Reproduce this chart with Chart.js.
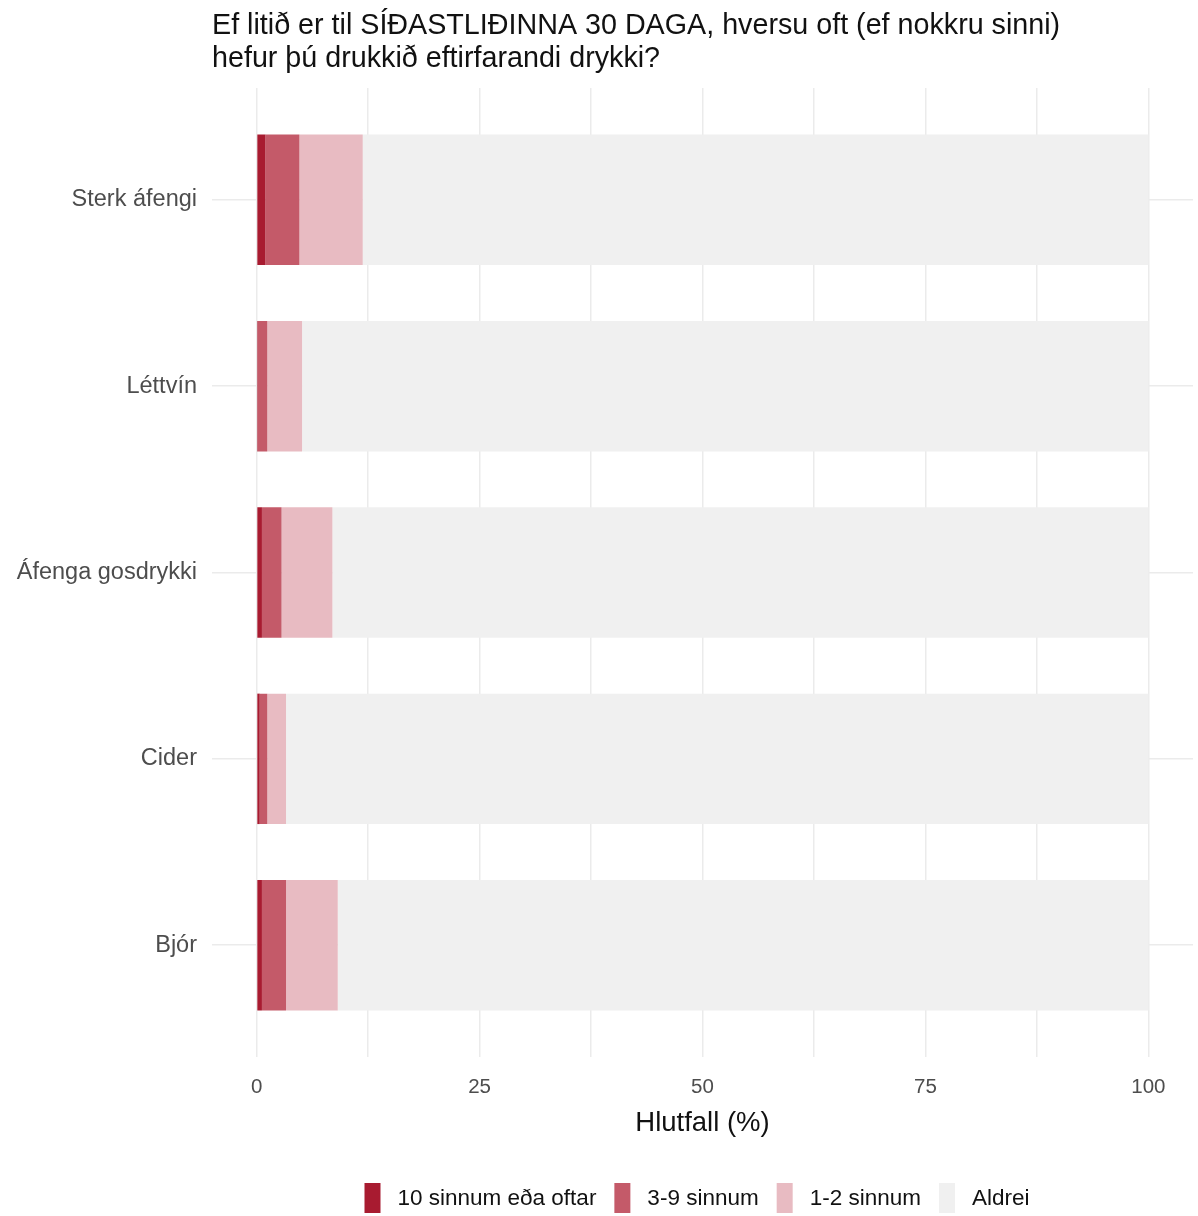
<!DOCTYPE html>
<html lang="is">
<head>
  <meta charset="UTF-8">
  <title>Drykkja síðastliðna 30 daga</title>
  <script src="https://cdn.jsdelivr.net/npm/chart.js"></script>
  <style>
    body { margin: 0; background: #fff; }
    #wrap { width: 1198px; height: 1216px; position: relative; }
  </style>
</head>
<body>
  <div id="wrap"><canvas id="drinkChart"></canvas></div>

  <script>
    const titleLines = [
      'Ef litið er til SÍÐASTLIÐINNA 30 DAGA, hversu oft (ef nokkru sinni)',
      'hefur þú drukkið eftirfarandi drykki?'
    ];
    const categories = ['Sterk áfengi', 'Léttvín', 'Áfenga gosdrykki', 'Cider', 'Bjór'];
    const seriesNames = ['10 sinnum eða oftar', '3-9 sinnum', '1-2 sinnum', 'Aldrei'];
    const tenPlus = [1.0, 0.15, 0.6, 0.35, 0.6];
    const threeToNine = [3.8, 1.05, 2.2, 0.85, 2.7];
    const oneToTwo = [7.1, 3.9, 5.7, 2.1, 5.8];
    const never = [88.1, 94.9, 91.5, 96.7, 90.9];
    const xTicks = [0, 12.5, 25, 37.5, 50, 62.5, 75, 87.5, 100];
    const colors = ['#A81B30', '#C45A69', '#E8BBC2', '#F0F0F0'];

    const FONT = "'Liberation Sans', Arial, sans-serif";
    const seriesValues = [tenPlus, threeToNine, oneToTwo, never];

    const datasets = seriesNames.map((name, s) => ({
      label: name,
      data: seriesValues[s].map((v, i) => ({ x: v, y: i + 1 })),
      backgroundColor: colors[s],
      borderWidth: 0,
      barPercentage: 0.7,
      categoryPercentage: 1
    }));

    // title + legend drawn in the same style as the original figure
    const extras = {
      id: 'extras',
      afterDraw(chart) {
        const ctx = chart.ctx;
        ctx.save();
        ctx.fillStyle = '#111';
        ctx.font = '28.7px ' + FONT;
        ctx.textBaseline = 'middle';
        ctx.textAlign = 'left';
        ctx.fillText(titleLines[0], 212, 26);
        ctx.fillText(titleLines[1], 212, 59);

        ctx.font = '22.5px ' + FONT;
        const boxW = 16, boxH = 30, gapText = 17, gapItem = 18;
        const widths = seriesNames.map(n => ctx.measureText(n).width);
        let total = 0;
        widths.forEach((w, i) => { total += boxW + gapText + w + (i < widths.length - 1 ? gapItem : 0); });
        let x = 697 - total / 2;
        const yMid = 1198;
        seriesNames.forEach((n, i) => {
          ctx.fillStyle = colors[i];
          ctx.fillRect(x, yMid - boxH / 2, boxW, boxH);
          x += boxW + gapText;
          ctx.fillStyle = '#111';
          ctx.fillText(n, x, yMid + 1);
          x += widths[i] + gapItem;
        });
        ctx.restore();
      }
    };

    new Chart(document.getElementById('drinkChart'), {
      type: 'bar',
      data: { datasets: datasets },
      plugins: [extras],
      options: {
        indexAxis: 'y',
        responsive: true,
        maintainAspectRatio: false,
        animation: false,
        layout: { padding: { top: 88, bottom: 76, left: 0, right: 5 } },
        plugins: {
          legend: { display: false },
          tooltip: { enabled: false }
        },
        scales: {
          x: {
            type: 'linear',
            stacked: true,
            min: -5,
            max: 105,
            afterBuildTicks: scale => { scale.ticks = xTicks.map(v => ({ value: v })); },
            afterFit: scale => { scale.height = 83; },
            ticks: {
              color: '#4D4D4D',
              font: { family: FONT, size: 20.5 },
              padding: 18,
              maxRotation: 0,
              autoSkip: false,
              callback: v => (v % 25 === 0 ? v : '')
            },
            grid: { color: '#EBEBEB', lineWidth: 1.5, drawTicks: false },
            border: { display: false },
            title: {
              display: true,
              text: 'Hlutfall (%)',
              color: '#111',
              font: { family: FONT, size: 27.5 },
              padding: { top: 6, bottom: 0 }
            }
          },
          y: {
            type: 'linear',
            stacked: true,
            reverse: true,
            offset: false,
            min: 0.4,
            max: 5.6,
            afterBuildTicks: scale => { scale.ticks = categories.map((c, i) => ({ value: i + 1 })); },
            afterFit: scale => { scale.width = 212; },
            ticks: {
              color: '#4D4D4D',
              font: { family: FONT, size: 23.5 },
              padding: 15,
              autoSkip: false,
              callback: v => categories[v - 1]
            },
            grid: { color: '#EBEBEB', lineWidth: 1.5, drawTicks: false, offset: false },
            border: { display: false }
          }
        }
      }
    });
  </script>
</body>
</html>
